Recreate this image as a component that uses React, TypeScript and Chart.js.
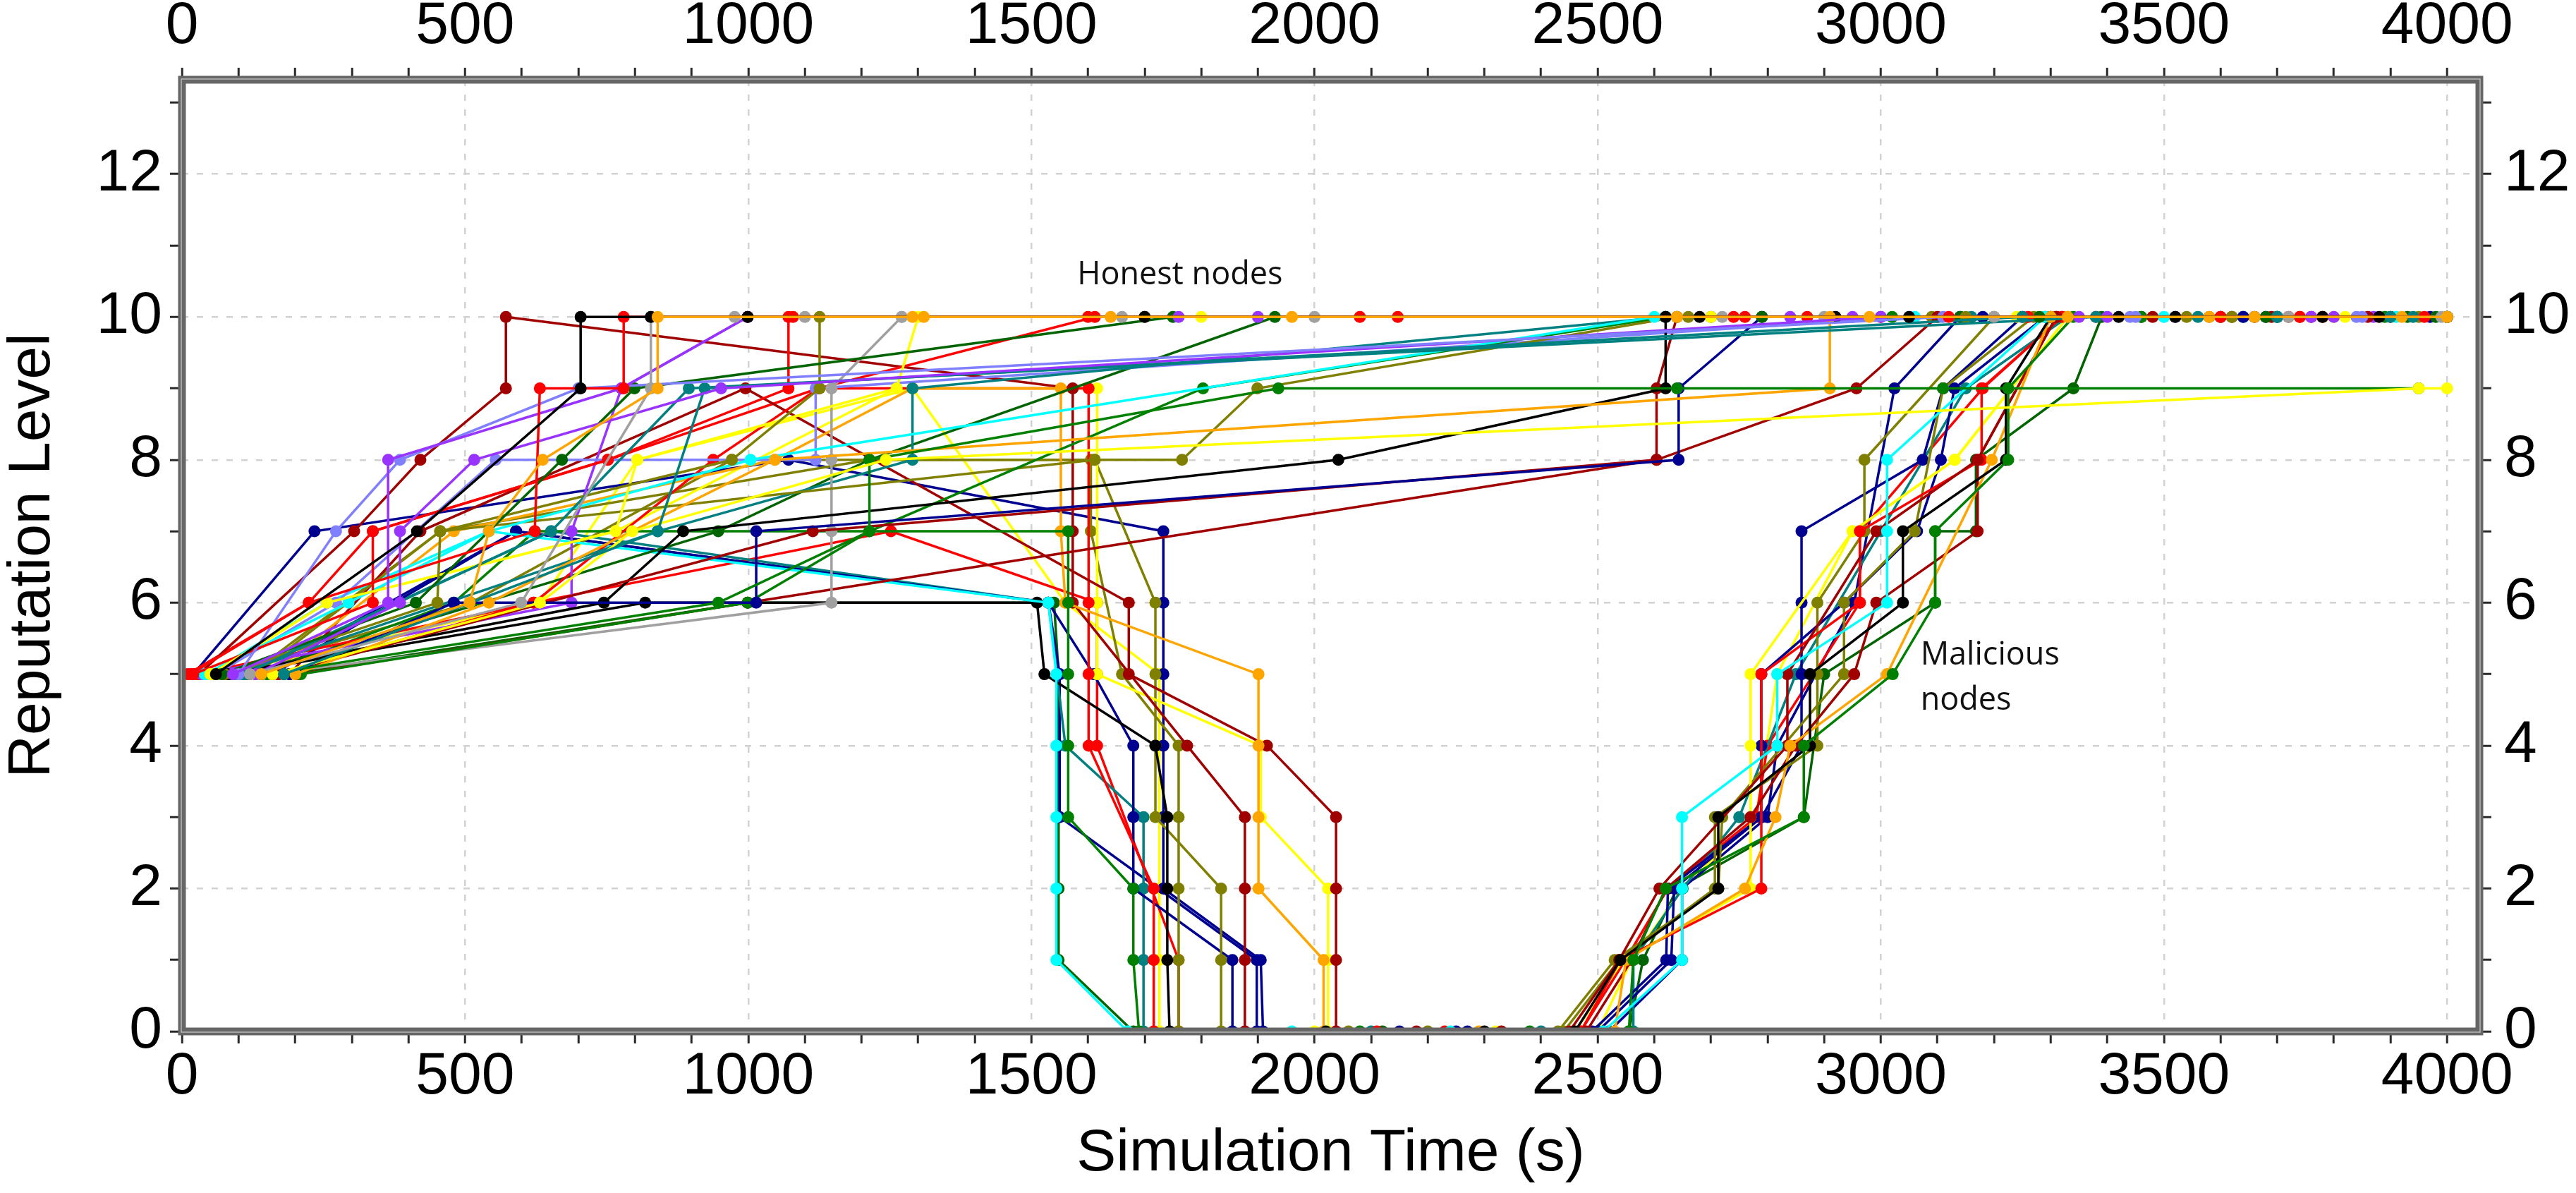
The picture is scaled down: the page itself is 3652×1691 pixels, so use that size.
import React, { useEffect, useRef } from 'react';
import Chart from 'chart.js/auto';

// axis ranges and tick labels
const X_MAX = 4057;
const Y_MAX = 13.32;
const xTickLabels = [0, 500, 1000, 1500, 2000, 2500, 3000, 3500, 4000];
const yTickLabels = [0, 2, 4, 6, 8, 10, 12];

// text notes, placed in data units
const honestNote = { text: 'Honest nodes', x: 1581, y: 10.58 };
const maliciousNote = { lines: ['Malicious', 'nodes'], x: 3070, y: [5.26, 4.63] };

// honest nodes: [time (s), reputation level]
const honestColors = [
  '#ffa500', '#000000', '#ff0000', '#a0a0a0', '#9933ff', '#8080ff', '#9933ff', '#006400',
  '#008080', '#008080', '#808000', '#ffff00', '#ffff00', '#008000', '#ffa500', '#000090',
  '#a00000', '#000000', '#ff0000', '#00ffff', '#008000', '#808000', '#a0a0a0', '#008080',
  '#8080ff', '#9933ff', '#ff0000', '#006400', '#a00000',
];
const honestNodes: [number, number][][] = [
  [[140, 5], [508, 6], [542, 7], [637, 8], [840, 9], [840, 10], [1290, 10], [1310, 10], [1640, 10], [1960, 10], [2640, 10], [2980, 10], [3330, 10], [3660, 10], [4000, 10]],
  [[60, 5], [415, 7], [704, 9], [704, 10], [828, 10], [999, 10], [1700, 10], [2680, 10], [3050, 10], [3520, 10], [3880, 10]],
  [[15, 5], [224, 6], [623, 7], [632, 9], [780, 9], [780, 10], [1079, 10], [1600, 10], [2760, 10], [3120, 10], [3600, 10], [3960, 10]],
  [[120, 5], [599, 6], [828, 9], [828, 10], [976, 10], [1100, 10], [1271, 10], [1660, 10], [2720, 10], [3200, 10], [3720, 10], [3990, 10]],
  [[90, 5], [364, 6], [364, 8], [776, 9], [999, 10], [1760, 10], [2840, 10], [3400, 10], [3800, 10]],
  [[100, 5], [272, 7], [385, 8], [700, 9], [3110, 10], [3450, 10], [3850, 10]],
  [[130, 5], [385, 6], [385, 7], [516, 8], [952, 9], [3000, 10], [3350, 10], [3760, 10]],
  [[70, 5], [413, 6], [671, 8], [799, 9], [1750, 10], [2790, 10], [3280, 10], [3680, 10], [3980, 10]],
  [[110, 5], [652, 7], [895, 9], [3380, 10], [3700, 10], [3940, 10]],
  [[180, 5], [840, 7], [923, 9], [3250, 10], [3560, 10], [3900, 10]],
  [[75, 5], [451, 6], [456, 7], [971, 8], [1126, 9], [1126, 10], [1700, 10], [2660, 10], [3150, 10], [3620, 10], [4000, 10]],
  [[50, 5], [256, 6], [766, 7], [804, 8], [1262, 9], [1300, 10], [1800, 10], [2700, 10], [3240, 10], [3820, 10]],
  [[160, 5], [632, 6], [795, 7], [1243, 8], [3950, 9], [4000, 9]],
  [[150, 5], [947, 6], [1214, 7], [1214, 8], [1936, 9], [2640, 9], [3110, 9], [3950, 9]],
  [[200, 5], [542, 6], [1047, 8], [2910, 9], [2910, 10], [3300, 10], [3580, 10], [3920, 10]],
  [[190, 5], [480, 6], [1014, 6], [1014, 7], [2643, 8], [2643, 9], [2790, 10], [3180, 10], [3640, 10], [3970, 10]],
  [[170, 5], [1114, 7], [2604, 8], [2957, 9], [3100, 10], [3480, 10], [3860, 10]],
  [[80, 5], [745, 6], [885, 7], [2042, 8], [2620, 9], [2620, 10], [2920, 10], [3420, 10], [3780, 10]],
  [[20, 5], [337, 6], [337, 7], [752, 8], [1071, 9], [1071, 10], [2147, 10], [2870, 10], [3380, 10], [3740, 10]],
  [[40, 5], [294, 6], [542, 7], [1004, 8], [2600, 10], [3060, 10], [3500, 10], [3910, 10]],
  [[210, 5], [999, 6], [1214, 7], [1803, 9], [2620, 10], [3020, 10], [3460, 10], [3890, 10]],
  [[130, 5], [456, 7], [1612, 8], [1766, 8], [1899, 9], [2640, 10], [3090, 10], [3540, 10], [3950, 10]],
  [[150, 5], [1147, 6], [1147, 7], [1147, 8], [1147, 9], [1271, 10], [2000, 10], [2900, 10], [3600, 10], [4000, 10]],
  [[95, 5], [840, 7], [1290, 8], [1290, 9], [2620, 10], [3160, 10], [3700, 10]],
  [[60, 5], [272, 6], [554, 8], [1119, 8], [1119, 9], [3050, 10], [3440, 10], [3840, 10]],
  [[35, 5], [688, 6], [688, 7], [776, 9], [999, 10], [1900, 10], [2950, 10], [3520, 10], [3870, 10]],
  [[25, 5], [621, 6], [938, 8], [1124, 9], [1612, 10], [2080, 10], [2740, 10], [3260, 10], [3780, 10]],
  [[115, 5], [947, 7], [1214, 8], [1930, 10], [2700, 10], [3140, 10], [3600, 10], [3930, 10]],
  [[205, 5], [999, 6], [2604, 8], [2604, 9], [2640, 10], [3000, 10], [3460, 10], [3900, 10]],
];

// malicious nodes: [time (s), reputation level]
const maliciousColors = [
  '#00ffff', '#008000', '#000000', '#ffa500', '#a00000', '#a00000', '#ff0000', '#ffff00',
  '#808000', '#808000', '#000090', '#000090', '#008080', '#ff0000', '#000090', '#ffff00', '#006400',
];
const maliciousNodes: [number, number][][] = [
  [[45, 5], [256, 6], [542, 7], [1530, 6], [1544, 5], [1544, 4], [1544, 3], [1544, 2], [1544, 1], [1670, 0], [1960, 0], [2240, 0], [2510, 0], [2649, 1], [2649, 2], [2649, 3], [2817, 4], [2817, 5], [3011, 6], [3011, 7], [3011, 8], [3290, 10], [3640, 10], [4000, 10]],
  [[140, 5], [480, 6], [623, 7], [1565, 7], [1565, 6], [1565, 5], [1565, 4], [1565, 3], [1680, 2], [1680, 1], [1690, 0], [2080, 0], [2380, 0], [2555, 0], [2563, 1], [2620, 2], [2864, 3], [2864, 4], [3021, 5], [3096, 6], [3096, 7], [3225, 8], [3225, 9], [3340, 10], [3700, 10], [4000, 10]],
  [[85, 5], [818, 6], [1510, 6], [1523, 5], [1719, 4], [1740, 3], [1740, 2], [1740, 1], [1744, 0], [2020, 0], [2300, 0], [2460, 0], [2540, 1], [2713, 2], [2713, 3], [2875, 4], [2875, 5], [3039, 6], [3039, 7], [3221, 8], [3221, 9], [3300, 10], [3660, 10], [4000, 10]],
  [[155, 5], [480, 7], [1047, 8], [1290, 9], [1552, 9], [1552, 7], [1560, 6], [1901, 5], [1901, 4], [1901, 3], [1901, 2], [2016, 1], [2016, 0], [2290, 0], [2530, 0], [2550, 1], [2760, 2], [2814, 3], [2840, 4], [3011, 5], [3196, 8], [3300, 10], [3620, 10], [4000, 10]],
  [[30, 5], [304, 7], [421, 8], [572, 9], [572, 10], [1573, 9], [1573, 7], [1573, 6], [1775, 4], [1877, 3], [1877, 2], [1877, 1], [1877, 0], [2180, 0], [2450, 0], [2538, 1], [2609, 2], [2835, 4], [2835, 5], [2992, 7], [3171, 8], [3310, 10], [3690, 10], [4000, 10]],
  [[190, 5], [421, 7], [995, 9], [1672, 6], [1672, 5], [1916, 4], [2038, 3], [2038, 2], [2038, 1], [2038, 0], [2330, 0], [2480, 0], [2560, 1], [2621, 2], [2770, 3], [2850, 4], [2953, 5], [2992, 6], [3171, 7], [3171, 8], [3310, 10], [3760, 10], [4000, 10]],
  [[10, 5], [224, 6], [337, 7], [752, 8], [1124, 9], [1601, 9], [1601, 6], [1601, 5], [1601, 4], [1716, 2], [1716, 1], [1716, 0], [2110, 0], [2470, 0], [2540, 1], [2789, 2], [2789, 5], [2963, 6], [2963, 7], [3178, 8], [3178, 9], [3320, 10], [3720, 10], [4000, 10]],
  [[55, 5], [256, 6], [766, 7], [1262, 9], [1616, 9], [1616, 6], [1616, 5], [1905, 4], [1905, 3], [2024, 2], [2024, 1], [2024, 0], [2320, 0], [2460, 0], [2545, 1], [2770, 2], [2770, 3], [2770, 4], [2770, 5], [2950, 7], [3131, 8], [3330, 10], [3800, 10], [4000, 10]],
  [[75, 5], [510, 6], [971, 8], [1605, 8], [1605, 7], [1660, 5], [1760, 4], [1760, 3], [1760, 2], [1760, 1], [1760, 0], [2060, 0], [2440, 0], [2538, 1], [2707, 2], [2707, 3], [2888, 4], [2888, 5], [2888, 6], [2971, 7], [2971, 8], [3200, 10], [3580, 10], [4000, 10]],
  [[120, 5], [456, 7], [1214, 8], [1612, 8], [1719, 6], [1719, 5], [1719, 4], [1719, 3], [1835, 2], [1835, 1], [1835, 0], [2200, 0], [2430, 0], [2530, 1], [2713, 2], [2720, 3], [2935, 5], [2935, 6], [3060, 7], [3110, 9], [3270, 10], [3640, 10], [4000, 10]],
  [[20, 5], [234, 7], [1071, 8], [1733, 7], [1733, 6], [1733, 5], [1733, 4], [1733, 3], [1733, 2], [1905, 1], [1909, 0], [2250, 0], [2490, 0], [2621, 1], [2624, 2], [2789, 3], [2789, 4], [2789, 5], [2935, 6], [3064, 7], [3106, 8], [3130, 9], [3290, 10], [3680, 10], [4000, 10]],
  [[160, 5], [590, 7], [1530, 6], [1610, 5], [1680, 4], [1680, 3], [1680, 2], [1855, 1], [1855, 0], [2150, 0], [2500, 0], [2630, 1], [2635, 2], [2790, 3], [2860, 4], [2860, 5], [2860, 6], [2860, 7], [3074, 8], [3110, 9], [3250, 10], [3620, 10], [4000, 10]],
  [[105, 5], [652, 7], [1530, 6], [1560, 4], [1698, 3], [1698, 2], [1698, 1], [1698, 0], [2100, 0], [2400, 0], [2563, 0], [2563, 1], [2650, 2], [2750, 3], [2850, 5], [3000, 7], [3150, 9], [3330, 10], [3700, 10], [4000, 10]],
  [[170, 5], [621, 6], [1252, 7], [1616, 6], [1616, 5], [1616, 4], [1760, 1], [1760, 0], [2230, 0], [2470, 0], [2549, 1], [2624, 2], [2780, 3], [2800, 4], [2963, 6], [2963, 7], [3180, 9], [3320, 10], [3740, 10], [4000, 10]],
  [[140, 5], [590, 7], [1530, 6], [1550, 5], [1550, 3], [1898, 1], [1898, 0], [2270, 0], [2520, 0], [2649, 1], [2649, 2], [2800, 3], [2817, 4], [2953, 6], [3024, 9], [3140, 10], [3600, 10], [4000, 10]],
  [[65, 5], [632, 6], [804, 8], [1290, 9], [1560, 6], [1726, 5], [1726, 4], [1726, 3], [1726, 2], [1726, 1], [1726, 0], [2000, 0], [2500, 0], [2560, 1], [2650, 2], [2780, 3], [2817, 5], [2950, 7], [3130, 8], [3330, 10], [3780, 10], [4000, 10]],
  [[180, 5], [999, 6], [1540, 6], [1548, 5], [1548, 4], [1548, 3], [1548, 2], [1548, 1], [1680, 0], [2120, 0], [2555, 0], [2580, 1], [2640, 2], [2864, 3], [2900, 5], [3096, 6], [3096, 7], [3168, 7], [3168, 8], [3340, 9], [3390, 10], [4000, 10]],
];

const FONT = '"Liberation Sans", Arial, sans-serif';
const NOTE_FONT = '45px "Open Sans", sans-serif';

// grey double frame round the plot area
const framePlugin = {
  id: 'frame',
  afterDraw(chart: any) {
    const { ctx, chartArea: a } = chart;
    ctx.save();
    ctx.strokeStyle = '#666666';
    ctx.lineWidth = 11;
    ctx.strokeRect(a.left, a.top, a.right - a.left, a.bottom - a.top);
    ctx.strokeStyle = '#b8b8b8';
    ctx.lineWidth = 1.5;
    ctx.strokeRect(a.left - 1, a.top - 1, a.right - a.left + 2, a.bottom - a.top + 2);
    ctx.restore();
  },
};

const notesPlugin = {
  id: 'notes',
  afterDatasetsDraw(chart: any) {
    const { ctx } = chart;
    const xs = chart.scales.x;
    const ys = chart.scales.y;
    ctx.save();
    ctx.font = NOTE_FONT;
    ctx.fillStyle = '#111111';
    ctx.textAlign = 'left';
    ctx.textBaseline = 'middle';
    ctx.fillText(honestNote.text, xs.getPixelForValue(honestNote.x), ys.getPixelForValue(honestNote.y));
    maliciousNote.lines.forEach((t, i) => {
      ctx.fillText(t, xs.getPixelForValue(maliciousNote.x), ys.getPixelForValue(maliciousNote.y[i]));
    });
    ctx.restore();
  },
};

const tickFont = { family: FONT, size: 84, lineHeight: 1 };

const xAxis = (position: 'top' | 'bottom', padding: number, size: number) => ({
  type: 'linear' as const,
  position,
  min: 0,
  max: X_MAX,
  afterFit: (s: any) => {
    s.height = size;
  },
  grid: {
    drawOnChartArea: position === 'bottom',
    color: (c: any) => (c.tick && c.tick.value % 500 === 0 && c.tick.value > 0 ? '#d2d2d2' : 'transparent'),
    lineWidth: 2.5,
    tickLength: 17,
    tickWidth: 3,
    tickColor: (c: any) => (c.tick && c.tick.value % 100 === 0 ? '#2a2a2a' : 'transparent'),
  },
  border: { display: false, dash: [9, 12] },
  ticks: {
    stepSize: 100,
    autoSkip: false,
    maxRotation: 0,
    minRotation: 0,
    includeBounds: false,
    padding,
    color: '#000',
    font: tickFont,
    callback: (v: any) => (xTickLabels.includes(Number(v)) ? String(v) : ''),
  },
});

const yAxis = (position: 'left' | 'right', padding: number, size: number) => ({
  type: 'linear' as const,
  position,
  min: 0,
  max: Y_MAX,
  afterFit: (s: any) => {
    s.width = size;
  },
  grid: {
    drawOnChartArea: position === 'left',
    color: (c: any) => (c.tick && c.tick.value % 2 === 0 && c.tick.value > 0 ? '#d2d2d2' : 'transparent'),
    lineWidth: 2.5,
    tickLength: 17,
    tickWidth: 3,
    tickColor: (c: any) => (c.tick && Number.isInteger(c.tick.value) ? '#2a2a2a' : 'transparent'),
  },
  border: { display: false, dash: [9, 12] },
  ticks: {
    stepSize: 1,
    autoSkip: false,
    includeBounds: false,
    padding,
    color: '#000',
    font: tickFont,
    callback: (v: any) => (yTickLabels.includes(Number(v)) ? String(v) : ''),
  },
});

const App: React.FC = () => {
  const canvasRef = useRef<HTMLCanvasElement>(null);
  const chartRef = useRef<Chart>();

  useEffect(() => {
    document.body.style.margin = '0';
    document.body.style.overflow = 'hidden';
    const ctx = canvasRef.current?.getContext('2d');
    if (!ctx) return;
    if (chartRef.current) chartRef.current.destroy();

    const series = [
      ...honestNodes.map((pts, i) => ({ pts, color: honestColors[i], label: `Honest ${i + 1}` })),
      ...maliciousNodes.map((pts, i) => ({ pts, color: maliciousColors[i], label: `Malicious ${i + 1}` })),
    ];

    const bottom = xAxis('bottom', 6, 229);
    const left = yAxis('left', 11, 258);

    chartRef.current = new Chart(ctx, {
      type: 'line',
      data: {
        datasets: series.map((s) => ({
          label: s.label,
          data: s.pts.map(([x, y]) => ({ x, y })),
          borderColor: s.color,
          backgroundColor: s.color,
          pointBackgroundColor: s.color,
          pointBorderColor: s.color,
          borderWidth: 3.5,
          pointRadius: 8.5,
          pointHoverRadius: 8.5,
          pointBorderWidth: 0,
          tension: 0,
          fill: false,
          xAxisID: 'x',
          yAxisID: 'y',
        })),
      },
      options: {
        animation: false,
        responsive: true,
        maintainAspectRatio: false,
        layout: { padding: 0 },
        plugins: {
          legend: { display: false },
          tooltip: { enabled: false },
        },
        scales: {
          x: {
            ...bottom,
            title: {
              display: true,
              text: 'Simulation Time (s)',
              color: '#000',
              font: { family: FONT, size: 84, lineHeight: 1 },
              padding: { top: 0, bottom: 13 },
            },
          },
          x2: xAxis('top', 16, 113),
          y: {
            ...left,
            title: {
              display: true,
              text: 'Reputation Level',
              color: '#000',
              font: { family: FONT, size: 84, lineHeight: 1 },
              padding: { top: 5, bottom: 0 },
            },
          },
          y2: yAxis('right', 18, 137),
        },
      } as any,
      plugins: [notesPlugin, framePlugin],
    });

    return () => {
      if (chartRef.current) {
        chartRef.current.destroy();
        chartRef.current = undefined;
      }
    };
  }, []);

  return (
    <div style={{ position: 'relative', width: 3652, height: 1691 }}>
      <canvas ref={canvasRef} />
    </div>
  );
};

export default App;
